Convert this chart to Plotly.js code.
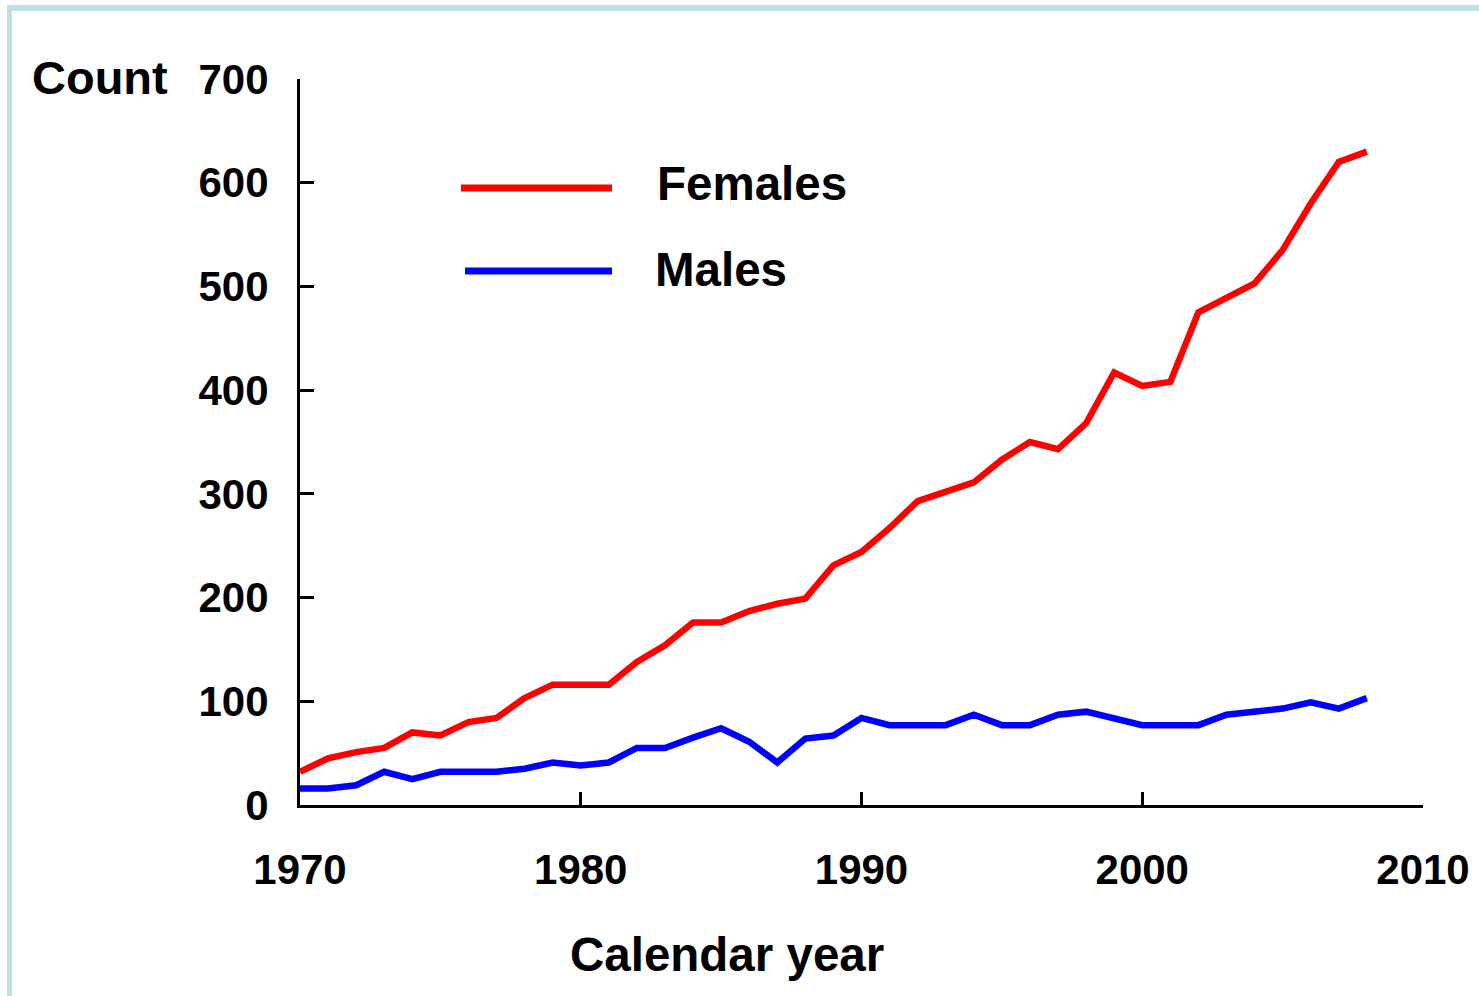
<!DOCTYPE html>
<html>
<head>
<meta charset="utf-8">
<script src="https://cdn.plot.ly/plotly-3.0.1.min.js"></script>
<style>
html,body{margin:0;padding:0;background:#fff;}
#chart{width:1479px;height:996px;}
</style>
</head>
<body>
<div id="chart"></div>
<script>
const years = [1970,1971,1972,1973,1974,1975,1976,1977,1978,1979,1980,1981,1982,1983,1984,1985,1986,1987,1988,1989,1990,1991,1992,1993,1994,1995,1996,1997,1998,1999,2000,2001,2002,2003,2004,2005,2006,2007,2008];
const females = [32,45,51,55,70,67,80,84,103,116,116,116,138,154,176,176,187,194,199,231,244,267,293,302,311,333,350,343,368,417,404,408,475,489,503,535,580,620,630];
const males = [16,16,19,32,25,32,32,32,35,41,38,41,55,55,65,74,61,41,64,67,84,77,77,77,87,77,77,87,90,84,77,77,77,87,90,93,99,93,103];
const seriesNames = ['Females','Males'];
const seriesColors = ['#ff0000','#0000ff'];
const yTicks = [0,100,200,300,400,500,600,700];
const xTicks = [1970,1980,1990,2000,2010];
const yTitle = 'Count';
const xTitle = 'Calendar year';

const W = 1479, H = 996;
const L = 300, R = 1423, T = 79, B = 805;
const px = x => (x - L) / (R - L);
const py = y => (B - y) / (B - T);
const FONT = 'Liberation Sans, Arial, Helvetica, sans-serif';

const traces = [females, males].map((vals, i) => ({
  x: years, y: vals, type: 'scatter', mode: 'lines', name: seriesNames[i],
  line: {color: seriesColors[i], width: 6.5}, showlegend: false, hoverinfo: 'skip'
}));

const frameColor = '#bde0e3';
const shapes = [
  {type:'rect', xref:'paper', yref:'paper', x0:px(7), x1:px(1479), y0:py(5), y1:py(11), fillcolor:frameColor, line:{width:0}, layer:'below'},
  {type:'rect', xref:'paper', yref:'paper', x0:px(7), x1:px(12), y0:py(5), y1:py(996), fillcolor:frameColor, line:{width:0}, layer:'below'},
  {type:'line', xref:'paper', yref:'paper', x0:px(461), x1:px(612), y0:py(188), y1:py(188), line:{color:seriesColors[0], width:7}},
  {type:'line', xref:'paper', yref:'paper', x0:px(465), x1:px(612), y0:py(271), y1:py(271), line:{color:seriesColors[1], width:7}}
];

const annotations = [
  {xref:'paper', yref:'paper', x:px(655), y:py(184), xanchor:'left', yanchor:'middle', text:seriesNames[0], showarrow:false, font:{family:FONT, size:47.5, color:'#000', weight:'bold'}},
  {xref:'paper', yref:'paper', x:px(653), y:py(269), xanchor:'left', yanchor:'middle', text:seriesNames[1], showarrow:false, font:{family:FONT, size:47.5, color:'#000', weight:'bold'}},
  {xref:'paper', yref:'paper', x:px(30), y:py(77), xanchor:'left', yanchor:'middle', text:yTitle, showarrow:false, font:{family:FONT, size:47, color:'#000', weight:'bold'}},
  {xref:'paper', yref:'paper', x:px(727), y:py(954), xanchor:'center', yanchor:'middle', text:xTitle, showarrow:false, font:{family:FONT, size:47.5, color:'#000', weight:'bold'}}
];

const layout = {
  width: W, height: H,
  margin: {l: L, r: W - R, t: T, b: H - B, pad: 0},
  paper_bgcolor: '#ffffff', plot_bgcolor: 'rgba(0,0,0,0)',
  showlegend: false,
  xaxis: {
    range: [1970, 2010], tickvals: xTicks, ticktext: xTicks.map(String),
    showgrid: false, zeroline: false, showline: true, linecolor: '#000', linewidth: 3,
    ticks: 'inside', ticklen: 13, tickwidth: 3, tickcolor: '#000',
    tickfont: {family: FONT, size: 42, color: '#000', weight: 'bold'},
    ticklabelstandoff: 26, fixedrange: true
  },
  yaxis: {
    range: [0, 700], tickvals: yTicks, ticktext: yTicks.map(String),
    showgrid: false, zeroline: false, showline: true, linecolor: '#000', linewidth: 3,
    ticks: 'inside', ticklen: 14, tickwidth: 3, tickcolor: '#000',
    tickfont: {family: FONT, size: 42, color: '#000', weight: 'bold'},
    ticklabelstandoff: 20, fixedrange: true
  },
  shapes: shapes,
  annotations: annotations
};

Plotly.newPlot('chart', traces, layout, {displayModeBar: false, staticPlot: true});
</script>
</body>
</html>
